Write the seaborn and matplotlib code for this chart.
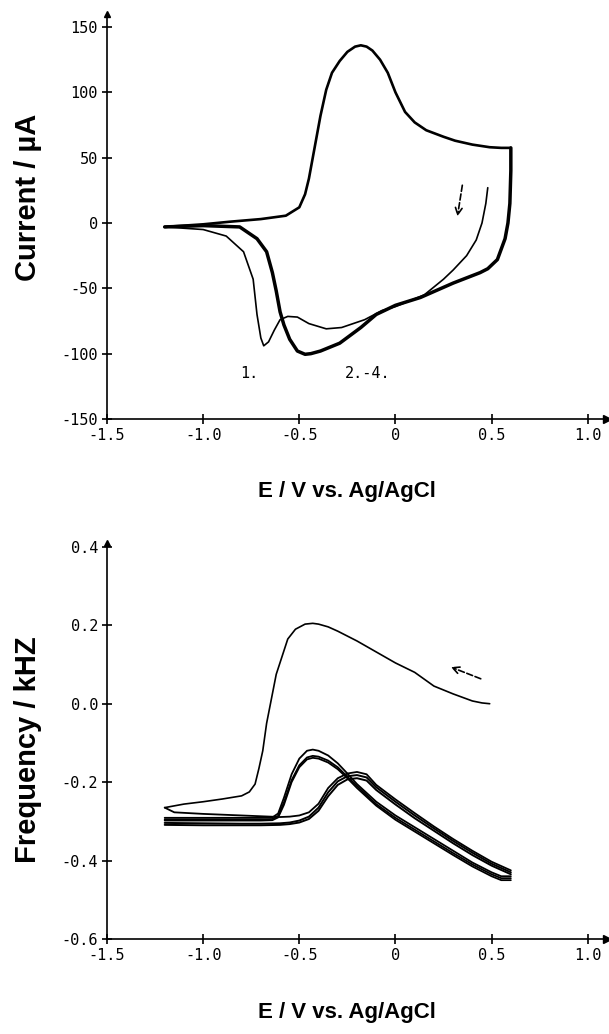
import numpy as np
import pandas as pd
import matplotlib
matplotlib.use("Agg")
import matplotlib.pyplot as plt
import seaborn as sns

# ---------------- cyclic voltammogram (current, µA) ----------------
# first cathodic sweep (thin)
cv_cath1_E = [0.48, 0.47, 0.45, 0.42, 0.37, 0.30, 0.25, 0.15, 0.05, 0.00, -0.07, -0.16,
              -0.28, -0.36, -0.45, -0.51, -0.56, -0.60, -0.63, -0.66, -0.685, -0.70,
              -0.72, -0.74, -0.79, -0.88, -1.00, -1.20]
cv_cath1_I = [27, 15, 0, -13, -25, -36, -43, -55, -61, -64, -67, -74,
              -80, -81, -77, -72, -71.5, -74, -82, -91, -94, -88,
              -70, -43, -22, -10, -5, -3]
# anodic sweeps (all cycles)
cv_anod_E = [-1.20, -1.00, -0.86, -0.70, -0.57, -0.50, -0.47, -0.45, -0.42, -0.39, -0.36,
             -0.33, -0.29, -0.25, -0.21, -0.18, -0.15, -0.12, -0.08, -0.04, 0.00,
             0.05, 0.10, 0.16, 0.25, 0.31, 0.40, 0.49, 0.55, 0.60]
cv_anod_I = [-3, -1, 1, 3, 5.6, 12, 22, 34, 58, 82, 102,
             115, 124, 131, 135, 136, 135, 132, 125, 115, 100,
             85, 77, 71, 66, 63, 60, 58, 57.5, 57.5]
# cathodic sweeps of cycles 2-4 (thick)
cv_cath24_E = [0.60, 0.60, 0.595, 0.585, 0.57, 0.53, 0.48, 0.44, 0.30, 0.13, 0.00, -0.10,
               -0.18, -0.29, -0.39, -0.44, -0.47, -0.51, -0.55, -0.58, -0.60, -0.62,
               -0.64, -0.67, -0.72, -0.81, -1.00, -1.20]
cv_cath24_I = [57.5, 40, 15, 0, -12, -28, -35, -38, -46, -57, -63, -70,
               -80, -92, -98, -100, -100.5, -98, -89, -78, -68, -52,
               -38, -22, -12, -3, -2, -3]

# ---------------- frequency response (kHz) ----------------
# first cathodic sweep
fq_cath1_E = [0.49, 0.45, 0.40, 0.30, 0.20, 0.10, 0.00, -0.10, -0.20, -0.30, -0.35, -0.40,
              -0.43, -0.47, -0.52, -0.56, -0.59, -0.62, -0.65, -0.67, -0.69, -0.71,
              -0.73, -0.76, -0.80, -0.90, -1.00, -1.10, -1.20]
fq_cath1_f = [0.000, 0.002, 0.007, 0.025, 0.045, 0.080, 0.104, 0.132, 0.160, 0.185, 0.196, 0.203,
              0.205, 0.203, 0.190, 0.165, 0.120, 0.075, 0.000, -0.050, -0.120, -0.165,
              -0.205, -0.225, -0.235, -0.243, -0.250, -0.256, -0.265]
# first anodic sweep
fq_anod1_E = [-1.20, -1.15, -1.00, -0.80, -0.70, -0.60, -0.55, -0.50, -0.45, -0.40, -0.35,
              -0.30, -0.25, -0.20, -0.15, -0.10, 0.00, 0.10, 0.20, 0.30, 0.40, 0.50, 0.60]
fq_anod1_f = [-0.265, -0.277, -0.281, -0.285, -0.287, -0.289, -0.288, -0.285, -0.277, -0.255, -0.215,
              -0.190, -0.178, -0.174, -0.180, -0.207, -0.244, -0.279, -0.313, -0.345, -0.375, -0.403, -0.425]
# anodic sweeps, cycles 2-4
fq_anod_E = [-1.20, -1.00, -0.80, -0.70, -0.60, -0.55, -0.50, -0.45, -0.40, -0.35, -0.30,
             -0.25, -0.20, -0.15, -0.10, 0.00, 0.10, 0.20, 0.30, 0.40, 0.50, 0.60]
fq_anod2_f = [-0.304, -0.305, -0.306, -0.306, -0.305, -0.303, -0.298, -0.288, -0.265, -0.226, -0.198,
              -0.185, -0.182, -0.188, -0.213, -0.250, -0.285, -0.318, -0.350, -0.380, -0.408, -0.430]
fq_anod3_f = [-0.309, -0.310, -0.310, -0.310, -0.309, -0.307, -0.303, -0.294, -0.273, -0.236, -0.207,
              -0.193, -0.190, -0.196, -0.220, -0.257, -0.292, -0.324, -0.356, -0.386, -0.413, -0.435]
# cathodic sweeps, cycles 2-4
fq_cath_E = [0.60, 0.55, 0.50, 0.40, 0.30, 0.20, 0.10, 0.00, -0.10, -0.20, -0.25, -0.30,
             -0.35, -0.40, -0.43, -0.46, -0.50, -0.54, -0.58, -0.61, -0.64, -0.70, -0.90, -1.20]
fq_cath2_f = [-0.440, -0.440, -0.430, -0.405, -0.375, -0.345, -0.315, -0.285, -0.250, -0.205, -0.178, -0.152,
              -0.132, -0.120, -0.117, -0.120, -0.140, -0.180, -0.240, -0.280, -0.290, -0.291, -0.291, -0.291]
fq_cath3_f = [-0.445, -0.445, -0.435, -0.410, -0.381, -0.351, -0.321, -0.291, -0.256, -0.210, -0.186, -0.162,
              -0.145, -0.135, -0.133, -0.137, -0.157, -0.195, -0.252, -0.286, -0.294, -0.295, -0.295, -0.295]
fq_cath4_f = [-0.450, -0.450, -0.440, -0.415, -0.386, -0.356, -0.326, -0.296, -0.260, -0.215, -0.190, -0.167,
              -0.150, -0.140, -0.138, -0.142, -0.162, -0.200, -0.258, -0.290, -0.297, -0.298, -0.298, -0.298]

cv_xticks = [-1.5, -1.0, -0.5, 0.0, 0.5, 1.0]
cv_xticklabels = ["-1.5", "-1.0", "-0.5", "0", "0.5", "1.0"]
cv_yticks = [150, 100, 50, 0, -50, -100, -150]
cv_yticklabels = ["150", "100", "50", "0", "-50", "-100", "-150"]
fq_yticks = [0.4, 0.2, 0.0, -0.2, -0.4, -0.6]
fq_yticklabels = ["0.4", "0.2", "0.0", "-0.2", "-0.4", "-0.6"]

xlabel = "E / V vs. Ag/AgCl"

sns.set_theme(style="ticks")
plt.rcParams["font.family"] = ["DejaVu Sans"]
plt.rcParams["text.color"] = "black"

fig = plt.figure(figsize=(6.09, 10.34), dpi=100)
ax1 = fig.add_axes([0.1757, 0.5948, 0.821, 0.3917])
ax2 = fig.add_axes([0.1757, 0.0919, 0.821, 0.3830])

mono = "DejaVu Sans Mono"
xlabel_font = dict(family="Liberation Sans", weight="bold", size=16, color="black")
ylabel_font = dict(family="Liberation Sans", weight="bold", size=21, color="black")


def trace(ax, E, y, lw):
    df = pd.DataFrame({"E": E, "y": y})
    sns.lineplot(data=df, x="E", y="y", sort=False, estimator=None,
                 color="black", linewidth=lw, ax=ax)


def style_axes(ax, xlim, ylim, yticks, yticklabels):
    ax.set_xlim(*xlim)
    ax.set_ylim(*ylim)
    ax.set_xticks(cv_xticks)
    ax.set_xticklabels(cv_xticklabels, family=mono, size=11, color="black")
    ax.set_yticks(yticks)
    ax.set_yticklabels(yticklabels, family=mono, size=11, color="black")
    for side in ("top", "right"):
        ax.spines[side].set_visible(False)
    for side in ("left", "bottom"):
        ax.spines[side].set_linewidth(1.2)
        ax.spines[side].set_color("black")
    ax.tick_params(direction="inout", length=7, width=1.2, colors="black", pad=3)
    ax.set_xlabel("")
    ax.set_ylabel("")
    ax.patch.set_alpha(0)
    # axis arrowheads
    ax.plot(1, 0, marker=">", color="black", markersize=6, transform=ax.transAxes, clip_on=False)
    ax.plot(0, 1, marker="^", color="black", markersize=5, transform=ax.transAxes, clip_on=False)


# current panel
trace(ax1, cv_anod_E, cv_anod_I, 1.9)
trace(ax1, cv_cath24_E, cv_cath24_I, 2.5)
trace(ax1, cv_cath1_E, cv_cath1_I, 1.2)
style_axes(ax1, (-1.5, 1.1), (-150, 160), cv_yticks, cv_yticklabels)
ax1.text(-0.81, -115, "1.", family=mono, size=11, ha="left", va="center")
ax1.text(-0.265, -115, "2.-4.", family=mono, size=11, ha="left", va="center")
ax1.annotate("", xy=(0.32, 3), xytext=(0.35, 31),
             arrowprops=dict(arrowstyle="->", linestyle="--", color="black", lw=1.2))

# frequency panel
trace(ax2, fq_cath1_E, fq_cath1_f, 1.2)
trace(ax2, fq_anod1_E, fq_anod1_f, 1.3)
for f in (fq_anod2_f, fq_anod3_f):
    trace(ax2, fq_anod_E, f, 1.4)
for f in (fq_cath2_f, fq_cath3_f, fq_cath4_f):
    trace(ax2, fq_cath_E, f, 1.3)
style_axes(ax2, (-1.5, 1.1), (-0.6, 0.41), fq_yticks, fq_yticklabels)
ax2.annotate("", xy=(0.275, 0.096), xytext=(0.457, 0.061),
             arrowprops=dict(arrowstyle="->", linestyle="--", color="black", lw=1.2))

# axis titles
fig.text(0.57, 0.525, xlabel, ha="center", va="center", **xlabel_font)
fig.text(0.57, 0.021, xlabel, ha="center", va="center", **xlabel_font)
fig.text(0.046, 0.809, "Current / µA", ha="center", va="center", rotation=90, **ylabel_font)
fig.text(0.046, 0.275, "Frequency / kHZ", ha="center", va="center", rotation=90, **ylabel_font)

fig.savefig("out.png", dpi=100, facecolor="white")
